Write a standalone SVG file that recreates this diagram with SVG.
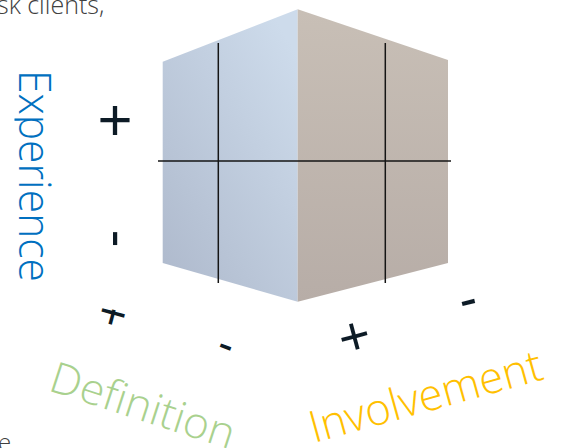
<svg xmlns="http://www.w3.org/2000/svg" width="565" height="448" viewBox="0 0 565 448">
<style>
.lbl{font-family:"Open Sans","Liberation Sans",sans-serif;font-weight:300}
.sym{font-family:"Liberation Sans",Arial,sans-serif;fill:#0d1b26;text-anchor:middle}
.grid{stroke:#151515;stroke-width:1.5;fill:none}
</style>
<defs>
<linearGradient id="gl" x1="0" y1="1" x2="0.8" y2="0">
<stop offset="0" stop-color="#adb8cb"/>
<stop offset="1" stop-color="#cddbeb"/>
</linearGradient>
<linearGradient id="gr" x1="0" y1="0" x2="0" y2="1">
<stop offset="0" stop-color="#c8bfb6"/>
<stop offset="1" stop-color="#b7ada7"/>
</linearGradient>
<clipPath id="cExp"><rect x="14.5" y="0" width="60" height="448"/></clipPath>
<clipPath id="cT"><rect x="-20" y="-2.2" width="40" height="30"/></clipPath>
</defs>
<rect width="565" height="448" fill="#ffffff"/>
<g id="context-text">
<text class="lbl" x="-3" y="14" font-size="25" fill="#404040" font-weight="400">sk clients,</text>
<text class="lbl" x="-2" y="451" font-size="24" fill="#404040" font-weight="400">e</text>
</g>
<g id="cube">
<polygon points="162.7,61.7 297.7,9.3 297.7,301.7 162.7,263" fill="url(#gl)"/>
<polygon points="297.7,9.3 448,60 448,263 297.7,301.7" fill="url(#gr)"/>
</g>
<g id="connectors">
<line class="grid" x1="158" y1="161" x2="451" y2="161"/>
<line class="grid" x1="218.3" y1="43" x2="218.3" y2="283"/>
<line class="grid" x1="385.3" y1="43" x2="385.3" y2="283"/>
</g>
<g id="axis-experience">
<g clip-path="url(#cExp)">
<text class="lbl" transform="translate(19,70) rotate(90)" x="0" y="0" font-size="45" fill="#0070c0" textLength="212" lengthAdjust="spacingAndGlyphs">Experience</text>
</g>
<text class="sym" x="115" y="140" font-size="60">+</text>
<g transform="translate(115,238.5) rotate(90)"><text class="sym" x="0" y="14" font-size="53">-</text></g>
</g>
<g id="axis-definition">
<g transform="translate(113.5,312) rotate(15)"><text class="sym" x="0" y="17" font-size="48" clip-path="url(#cT)">+</text></g>
<g transform="translate(225.5,347) rotate(21)"><text class="sym" x="0" y="12" font-size="45">-</text></g>
<text class="lbl" transform="translate(47,390) rotate(18)" x="0" y="0" font-size="43" fill="#a9d18e" textLength="192" lengthAdjust="spacingAndGlyphs">Definition</text>
</g>
<g id="axis-involvement">
<g transform="translate(354,335) rotate(-15)"><text class="sym" x="0" y="19.5" font-size="54">+</text></g>
<g transform="translate(468.5,302.5) rotate(-14)"><text class="sym" x="0" y="14" font-size="53">-</text></g>
<text class="lbl" transform="translate(314,443) rotate(-15.5)" x="0" y="0" font-size="44" fill="#ffc000" textLength="240" lengthAdjust="spacingAndGlyphs">Involvement</text>
</g>
</svg>
